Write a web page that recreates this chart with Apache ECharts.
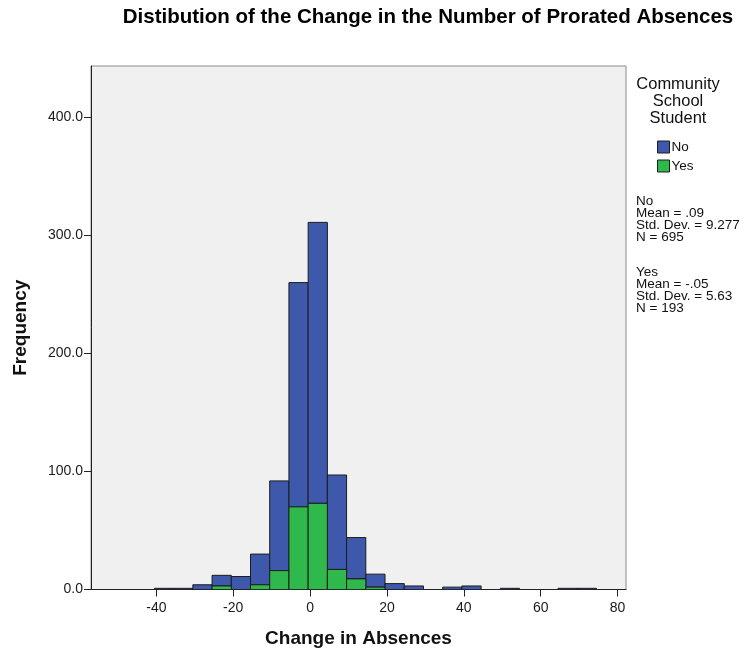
<!DOCTYPE html>
<html>
<head>
<meta charset="utf-8">
<script src="https://cdn.jsdelivr.net/npm/echarts@6/dist/echarts.min.js"></script>
<style>
html,body{margin:0;padding:0;background:#fff;}
#chart{width:749px;height:653px;}
</style>
</head>
<body>
<div id="chart"></div>
<script>
// Histogram bins (lower edge of each bin, width 5)
const binStart = [-40.5,-35.5,-30.5,-25.5,-20.5,-15.5,-10.5,-5.5,-0.5,4.5,9.5,14.5,19.5,24.5,29.5,34.5,39.5,44.5,49.5,54.5,59.5,64.5,69.5];
const binWidth = 5;
// Counts per bin
const yesCounts = [0,0,0,3,0,4,16,70,73,17,9,2,0,0,0,0,0,0,0,0,0,0,0];
const noCounts  = [1,1,4,9,11,26,76,190,238,80,35,11,5,3,0,2,3,0,1,0,0,1,1];
const xTicks = [-40,-20,0,20,40,60,80];
const statsNo = ['No','Mean = .09','Std. Dev. = 9.277','N = 695'];
const statsYes = ['Yes','Mean = -.05','Std. Dev. = 5.63','N = 193'];

const FONT = '"Liberation Sans", Arial, sans-serif';
const BLUE = '#3e58ab';
const GREEN = '#2fb84c';

const yesData = binStart.map((s,i)=>[s, s+binWidth, 0, yesCounts[i]]);
const noData = binStart.map((s,i)=>[s, s+binWidth, yesCounts[i], yesCounts[i]+noCounts[i]]);

function renderBar(params, api){
  const x0 = api.value(0), x1 = api.value(1), y0 = api.value(2), y1 = api.value(3);
  if (y1 <= y0) return null;
  const p0 = api.coord([x0, y0]);
  const p1 = api.coord([x1, y1]);
  return {
    type:'rect',
    shape:{x:p0[0], y:p1[1], width:p1[0]-p0[0], height:p0[1]-p1[1]},
    style:{fill: api.visual('color'), stroke:'#1c1c1c', lineWidth:1}
  };
}

const chart = echarts.init(document.getElementById('chart'), null, {renderer:'canvas'});
const statLines = [];
statsNo.forEach((t,i)=>statLines.push({type:'text', left:636, top:194+i*12, style:{text:t, font:'13.5px '+FONT, fill:'#111'}}));
statsYes.forEach((t,i)=>statLines.push({type:'text', left:636, top:265+i*12, style:{text:t, font:'13.5px '+FONT, fill:'#111'}}));

chart.setOption({
  backgroundColor:'#ffffff',
  animation:false,
  graphic:[
    {type:'text', x:428, y:7, style:{text:'Distibution of the Change in the Number of Prorated Absences', font:'bold 20.5px '+FONT, fill:'#000', align:'center'}},
    {type:'text', x:678, y:76, style:{text:'Community\nSchool\nStudent', font:'16.5px '+FONT, fill:'#111', align:'center', lineHeight:17}},
    ...statLines
  ],
  legend:{
    orient:'vertical', left:657, top:140, itemWidth:12, itemHeight:12, itemGap:5, padding:0,
    icon:'rect', data:['No','Yes'],
    textStyle:{fontFamily:FONT, fontSize:13.5, color:'#111', padding:[0,0,0,-3]},
    itemStyle:{borderColor:'#1c1c1c', borderWidth:1}
  },
  grid:{left:91, top:66, width:535, height:523.5, outerBoundsMode:'none', containLabel:false,
    show:true, backgroundColor:'#f0f0f0', borderColor:'#8a8a8a', borderWidth:1},
  xAxis:{
    type:'value', min:-57, max:82.2,
    name:'Change in Absences', nameLocation:'middle', nameGap:40,
    nameTextStyle:{fontFamily:FONT, fontWeight:'bold', fontSize:19, color:'#111'},
    axisLine:{show:true, onZero:false, lineStyle:{color:'#222', width:1}},
    axisTick:{show:true, length:7, inside:false, customValues:xTicks, lineStyle:{color:'#222'}},
    axisLabel:{customValues:xTicks, fontFamily:FONT, fontSize:14, color:'#1a1a1a', margin:12},
    splitLine:{show:false}
  },
  yAxis:{
    type:'value', min:0, max:443.5, interval:100,
    name:'Frequency', nameLocation:'middle', nameGap:61, nameRotate:90,
    nameTextStyle:{fontFamily:FONT, fontWeight:'bold', fontSize:19, color:'#111'},
    axisLine:{show:true, onZero:false, lineStyle:{color:'#222', width:1}},
    axisTick:{show:true, length:7, lineStyle:{color:'#222'}},
    axisLabel:{fontFamily:FONT, fontSize:14, color:'#1a1a1a', margin:8, showMaxLabel:false,
      formatter:v=> v>443 ? '' : v.toFixed(1)},
    splitLine:{show:false}
  },
  series:[
    {type:'custom', name:'No', renderItem:renderBar, data:noData, itemStyle:{color:BLUE}, encode:{x:[0,1], y:[2,3]}, clip:true},
    {type:'custom', name:'Yes', renderItem:renderBar, data:yesData, itemStyle:{color:GREEN}, encode:{x:[0,1], y:[2,3]}, clip:true}
  ]
});
</script>
</body>
</html>
